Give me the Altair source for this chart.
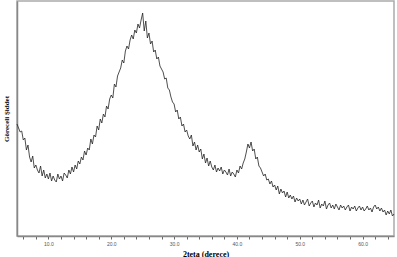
import altair as alt
import pandas as pd

theta_start = 5.0
theta_step = 0.25
intensity = [
    112, 108, 104, 105, 96, 98, 86, 91, 79, 74, 80, 68, 71, 66, 63, 70,
    60, 66, 58, 62, 57, 63, 55, 60, 56, 54, 62, 57, 60, 55, 63, 61,
    58, 66, 62, 69, 64, 71, 67, 75, 72, 79, 76, 85, 81, 88, 86, 97,
    92, 101, 99, 110, 106, 117, 113, 122, 119, 130, 127, 137, 141, 138, 152, 149,
    160, 164, 168, 176, 173, 185, 190, 187, 196, 201, 197, 206, 203, 212, 208, 216,
    223, 205, 215, 198, 203, 192, 195, 184, 186, 177, 179, 170, 167, 164, 157, 158,
    148, 146, 139, 134, 132, 124, 126, 117, 119, 110, 112, 104, 106, 100, 97, 101,
    90, 94, 86, 91, 84, 87, 77, 82, 73, 78, 70, 75, 69, 66, 71, 64,
    68, 65, 69, 62, 66, 64, 61, 67, 60, 64, 62, 59, 66, 63, 70, 67,
    73, 77, 84, 92, 88, 94, 85, 87, 77, 79, 70, 68, 64, 60, 62, 56,
    57, 52, 55, 49, 51, 46, 50, 42, 47, 43, 45, 39, 44, 38, 41, 37,
    40, 34, 38, 35, 37, 32, 36, 31, 34, 37, 30, 33, 35, 29, 33, 31,
    36, 28, 32, 30, 35, 27, 31, 33, 28, 31, 27, 32, 29, 26, 31, 28,
    30, 26, 29, 31, 25, 29, 27, 30, 25, 28, 30, 26, 29, 25, 27, 30,
    26, 28, 24, 29, 31, 27, 29, 25, 28, 24, 26, 21, 25, 22, 26, 20,
    22,
]
two_theta = [theta_start + i * theta_step for i in range(len(intensity))]

df = pd.DataFrame({"theta": two_theta, "I": intensity})

tick_values = list(range(6, 65, 2))

chart = alt.Chart(df).mark_line(color="#222222", strokeWidth=0.8).encode(
    x=alt.X(
        "theta:Q",
        scale=alt.Scale(domain=[5, 65], nice=False, zero=False),
        axis=alt.Axis(
            values=tick_values,
            labelExpr="datum.value % 10 === 0 ? format(datum.value, '.1f') : ''",
            title="2teta (derece)",
            titleFont="Liberation Serif",
            titleFontWeight="bold",
            titleFontSize=8,
            titleColor="#000000",
            titlePadding=4,
            labelFont="Liberation Sans",
            labelFontSize=5,
            labelColor="#555555",
            labelPadding=2,
            tickSize=3,
            tickColor="#666666",
            domainColor="#888888",
            domainWidth=1.5,
            grid=False,
        ),
    ),
    y=alt.Y(
        "I:Q",
        scale=alt.Scale(domain=[0, 235], nice=False),
        axis=alt.Axis(
            labels=False,
            ticks=False,
            grid=False,
            domainColor="#888888",
            domainWidth=1.5,
            title="Göreceli Şiddet",
            titleFont="Liberation Serif",
            titleFontWeight="bold",
            titleFontSize=7,
            titleColor="#000000",
            titlePadding=8,
        ),
    ),
).properties(
    width=377,
    height=235,
    autosize=alt.AutoSizeParams(type="none"),
    padding={"left": 17, "top": 1, "right": 3, "bottom": 21},
).configure_view(stroke="#aaaaaa", strokeWidth=1.5)

chart.save("out.html", embed_options={"renderer": "svg", "actions": False})
